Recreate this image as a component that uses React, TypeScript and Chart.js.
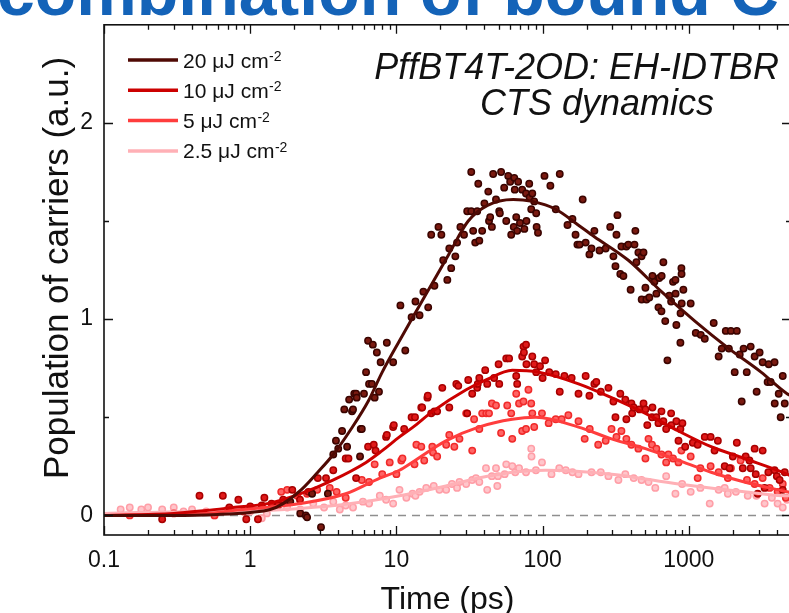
import React, { useEffect, useRef } from 'react';
import { Chart, registerables } from 'chart.js';

Chart.register(...registerables);

const FONT = "'Liberation Sans', Arial, sans-serif";

// ---- axis ticks ----
const xTickValues = [0.1, 1, 10, 100, 1000];
const xTickLabels = ['0.1', '1', '10', '100', '1000'];
const yTickValues = [0, 1, 2];
const yTickLabels = ['0', '1', '2'];
const yMinorValues = [0.5, 1.5];
const xMin = 0.1;
const xMax = 5000;
const yMin = -0.1;
const yMax = 2.5;
const xTitle = 'Time (ps)';
const yTitle = 'Population of carriers (a.u.)';

// ---- series ----
const seriesLabels = ['20 μJ cm', '10 μJ cm', '5 μJ cm', '2.5 μJ cm'];
const lineColors = ['#4f0a04', '#cc0000', '#ff3d3d', '#ffb0b6'];
const pointFill = ['#7a1a10', '#e01a1a', '#ff6464', '#ffc6cb'];
const pointEdge = ['#3a0400', '#a80000', '#f02a2a', '#ff9ea7'];

// fitted curves [time ps, population]
const fit20 = [
  [0.1, 0], [0.3, 0], [0.6, 0.005], [1, 0.015], [1.37, 0.03], [1.68, 0.06], [2.23, 0.13], [2.9, 0.22],
  [3.7, 0.31], [4.9, 0.44], [6.4, 0.58], [8.0, 0.73], [10.5, 0.89], [14.4, 1.07], [22.8, 1.33],
  [31, 1.5], [42, 1.58], [63, 1.61], [85, 1.6], [123, 1.56], [175, 1.48], [226, 1.42], [386, 1.3],
  [650, 1.14], [1100, 0.99], [1880, 0.85], [3120, 0.73], [4700, 0.62], [5000, 0.61],
];
const fit10 = [
  [0.1, 0], [0.3, 0.01], [0.5, 0.025], [0.76, 0.04], [1.31, 0.06], [2.19, 0.11], [3.68, 0.18],
  [6.2, 0.27], [8.0, 0.33], [10.5, 0.4], [13, 0.45], [17.7, 0.53], [30, 0.64], [41, 0.69], [62, 0.74],
  [94, 0.73], [176, 0.67], [296, 0.6], [505, 0.52], [850, 0.43], [1420, 0.35], [2400, 0.29],
  [4700, 0.21], [5000, 0.2],
];
const fit5 = [
  [0.1, 0], [0.5, 0.01], [0.76, 0.025], [2.19, 0.06], [4.5, 0.11], [7.7, 0.19], [10.5, 0.23],
  [12.8, 0.27], [21.8, 0.38], [36.5, 0.45], [62, 0.49], [90, 0.5], [176, 0.45], [296, 0.39],
  [505, 0.34], [850, 0.28], [1420, 0.22], [2400, 0.17], [4700, 0.12], [5000, 0.115],
];
const fit2p5 = [
  [0.1, 0.01], [0.5, 0.02], [0.76, 0.02], [2.19, 0.035], [4.9, 0.06], [10.5, 0.1], [21.8, 0.15],
  [36.5, 0.19], [62, 0.22], [105, 0.23], [296, 0.21], [850, 0.16], [2400, 0.12], [4700, 0.1], [5000, 0.1],
];

// measured points [time ps, population]
const data20 = [
  [1.88, 0.07], [2.2, 0.01], [2.4, 0.0], [2.45, -0.01], [2.65, 0.11], [3.05, -0.06], [3.4, 0.11], [3.7, 0.31],
  [3.86, 0.38], [4.0, 0.34], [4.25, 0.43], [4.4, 0.54], [4.6, 0.35], [4.75, 0.59], [4.97, 0.53], [5.05, 0.54],
  [5.15, 0.62], [5.3, 0.62], [5.35, 0.6], [5.64, 0.3], [5.7, 0.44], [5.8, 0.44], [6.0, 0.62], [6.2, 0.73],
  [6.4, 0.89], [6.5, 0.67], [6.8, 0.67], [6.9, 0.87], [7.1, 0.6], [7.35, 0.83], [7.6, 0.63], [7.8, 0.78],
  [8.6, 0.88], [9.5, 0.78], [10.65, 1.07], [11.5, 0.84], [12.7, 1.01], [13.5, 1.09], [14.4, 1.02], [15.3, 1.14],
  [16.5, 1.06], [17.3, 1.43], [18.2, 1.17], [19.4, 1.47], [20.3, 1.43], [20.9, 1.3], [22.3, 1.2], [23, 1.36],
  [23.7, 1.26], [25.3, 1.32], [26, 1.39], [27.4, 1.47], [29, 1.43], [30.5, 1.55], [32.5, 1.55], [32.5, 1.75],
  [33.5, 1.45], [34.6, 1.39], [35.7, 1.55], [36.3, 1.69], [36.9, 1.4], [38.6, 1.45], [40, 1.59], [42.5, 1.65],
  [43, 1.5], [43.8, 1.52], [45, 1.47], [45.9, 1.74], [48, 1.61], [50.5, 1.55], [51, 1.54], [52, 1.75],
  [54.6, 1.67], [56.4, 1.5], [58.2, 1.73], [60, 1.7], [61, 1.43], [64, 1.72], [64.5, 1.66], [63.5, 1.47],
  [66, 1.52], [67, 1.45], [68, 1.7], [70, 1.49], [72.5, 1.66], [75, 1.46], [77, 1.64], [77.5, 1.5],
  [81, 1.69], [81.5, 1.62], [83.6, 1.56], [85, 1.64], [87.6, 1.6], [90.4, 1.54], [91, 1.47], [93, 1.44],
  [103, 1.73], [113, 1.68], [123, 1.56], [131, 1.74], [148, 1.48], [160, 1.51], [168, 1.43], [173, 1.38],
  [179, 1.38], [188, 1.61], [197, 1.39], [209, 1.33], [216, 1.36], [226, 1.45], [245, 1.35], [270, 1.36],
  [290, 1.47], [305, 1.32], [315, 1.27], [320, 1.43], [325, 1.53], [340, 1.23], [346, 1.37], [357, 1.22],
  [374, 1.37], [386, 1.38], [400, 1.15], [425, 1.38], [431, 1.45], [438, 1.29], [452, 1.34], [475, 1.32],
  [476, 1.1], [490, 1.34], [505, 1.16], [513, 1.1], [537, 1.11], [564, 1.22], [582, 1.19], [600, 1.13],
  [620, 1.06], [628, 1.21], [650, 1.04], [652, 1.22], [670, 1.29], [690, 0.99], [714, 0.79], [735, 1.12],
  [757, 1.09], [780, 1.19], [810, 1.2], [812, 1.13], [822, 0.97], [876, 0.88], [878, 1.03], [890, 1.26],
  [892, 1.23], [894, 1.08], [918, 1.15], [1030, 1.08], [1116, 0.93], [1207, 0.92], [1286, 0.9], [1480, 0.98],
  [1600, 0.81], [1680, 0.85], [1790, 0.94], [1880, 0.85], [1940, 0.94], [2060, 0.73], [2130, 0.94], [2230, 0.82],
  [2300, 0.58], [2370, 0.85], [2490, 0.73], [2650, 0.86], [2820, 0.81], [2910, 0.63], [3050, 0.83], [3200, 0.78],
  [3460, 0.68], [3520, 0.77], [3630, 0.68], [3860, 0.78], [3870, 0.57], [4120, 0.62], [4250, 0.5], [4390, 0.71],
  [4530, 0.57],
];
const data10 = [
  [0.25, -0.02], [0.45, 0.1], [0.65, 0.1], [0.72, 0.04], [0.83, 0.08], [0.94, -0.02], [1.0, 0.045], [1.13, -0.02],
  [1.2, 0.05], [1.25, 0.09], [1.4, 0.06], [1.55, 0.05], [1.68, 0.08], [1.8, 0.07], [1.94, 0.13], [2.19, 0.08],
  [2.5, 0.12], [2.9, 0.19], [3.3, 0.19], [3.7, 0.23], [4.5, 0.29], [4.7, 0.29], [5.3, 0.19], [6.4, 0.35],
  [7.0, 0.36], [7.2, 0.33], [8.5, 0.4], [8.6, 0.41], [9.5, 0.45], [9.6, 0.46], [11.3, 0.44], [12.7, 0.5],
  [13.4, 0.5], [14.8, 0.55], [15.0, 0.55], [16.3, 0.6], [16.4, 0.61], [17.3, 0.52], [18.2, 0.53], [19, 0.53],
  [20.6, 0.65], [23, 0.55], [25.7, 0.67], [26.5, 0.66], [30.5, 0.52], [31, 0.69], [33, 0.62], [35.7, 0.65],
  [36, 0.67], [36.9, 0.7], [40.5, 0.74], [41.8, 0.67], [46.6, 0.7], [50, 0.77], [50.5, 0.67], [56.4, 0.8],
  [59, 0.8], [66, 0.71], [67, 0.67], [72.5, 0.81], [74, 0.86], [74.5, 0.83], [77, 0.87], [77.5, 0.77],
  [85, 0.81], [87.6, 0.77], [90.4, 0.73], [96, 0.76], [100, 0.7], [104, 0.79], [111, 0.73], [123, 0.72],
  [131, 0.63], [141, 0.71], [158, 0.7], [176, 0.62], [197, 0.71], [209, 0.61], [226, 0.67], [233, 0.68],
  [250, 0.63], [282, 0.65], [305, 0.58], [315, 0.5], [340, 0.62], [368, 0.59], [374, 0.49], [405, 0.57],
  [410, 0.52], [420, 0.55], [460, 0.54], [490, 0.57], [505, 0.54], [520, 0.46], [560, 0.5], [564, 0.55],
  [600, 0.5], [620, 0.47], [650, 0.53], [670, 0.48], [700, 0.44], [757, 0.52], [760, 0.46], [822, 0.48],
  [850, 0.38], [876, 0.44], [904, 0.47], [945, 0.35], [1065, 0.37], [1150, 0.36], [1286, 0.4], [1410, 0.4],
  [1500, 0.33], [1580, 0.38], [1760, 0.25], [1900, 0.24], [2000, 0.3], [2130, 0.37], [2340, 0.24], [2450, 0.3],
  [2600, 0.28], [2650, 0.24], [2820, 0.34], [2870, 0.21], [2960, 0.11], [3200, 0.33], [3300, 0.14], [3500, 0.22],
  [3860, 0.23], [4000, 0.2], [4180, 0.18], [4390, 0.13], [4530, 0.22],
];
const data5 = [
  [0.15, 0.0], [0.3, 0.01], [0.57, 0.0], [0.9, 0.02], [1.2, 0.04], [1.63, 0.12], [1.79, 0.13], [2.1, 0.1],
  [2.45, 0.11], [2.87, 0.13], [3.5, 0.14], [3.9, 0.12], [4.5, 0.09], [5.8, 0.18], [6.5, 0.17], [7.1, 0.26],
  [8, 0.21], [9.0, 0.27], [10, 0.21], [10.8, 0.28], [11, 0.29], [13.3, 0.26], [13.7, 0.36], [14.8, 0.35],
  [15.5, 0.28], [17.6, 0.35], [17.8, 0.32], [19, 0.3], [21.9, 0.36], [23, 0.41], [24.9, 0.35], [27, 0.39],
  [30, 0.52], [33, 0.33], [34, 0.49], [36.9, 0.44], [38.6, 0.52], [41.2, 0.52], [43, 0.52], [45, 0.57],
  [48, 0.56], [52, 0.42], [57.3, 0.56], [61, 0.52], [62, 0.39], [66, 0.62], [69, 0.57], [72.5, 0.43],
  [74, 0.58], [77, 0.44], [80, 0.64], [83.6, 0.57], [85, 0.52], [87.6, 0.45], [99, 0.52], [110, 0.47],
  [123, 0.49], [135, 0.49], [150, 0.51], [176, 0.48], [194, 0.39], [210, 0.44], [240, 0.36], [270, 0.38],
  [296, 0.44], [320, 0.4], [346, 0.43], [374, 0.39], [405, 0.36], [452, 0.34], [505, 0.29], [530, 0.39],
  [560, 0.36], [600, 0.34], [650, 0.31], [700, 0.27], [725, 0.31], [780, 0.29], [850, 0.27], [890, 0.33],
  [1030, 0.3], [1150, 0.19], [1200, 0.24], [1410, 0.25], [1600, 0.22], [1850, 0.19], [1940, 0.24], [2260, 0.28],
  [2500, 0.18], [2820, 0.16], [3200, 0.19], [3570, 0.14], [4050, 0.12], [4390, 0.16], [4610, 0.09],
];
const data2p5 = [
  [0.13, 0.03], [0.15, 0.04], [0.18, 0.03], [0.2, 0.04], [0.25, 0.03], [0.3, 0.04], [0.35, 0.02], [0.4, 0.03],
  [0.5, 0.02], [0.57, 0.0], [0.7, 0.03], [1.0, 0.02], [1.2, -0.015], [1.3, 0.01], [1.79, 0.04], [2.2, 0.03],
  [2.7, 0.06], [3.2, 0.04], [3.7, 0.07], [4.1, 0.03], [4.5, 0.05], [5.05, 0.04], [5.9, 0.07], [6.5, 0.06],
  [7.7, 0.1], [8.5, 0.08], [9.5, 0.06], [10.5, 0.13], [11.7, 0.09], [12.9, 0.11], [13.5, 0.1], [14.4, 0.12],
  [16, 0.14], [18, 0.15], [19.7, 0.13], [21.9, 0.13], [24, 0.16], [26, 0.14], [27, 0.17], [30, 0.16],
  [33, 0.18], [35, 0.19], [36.9, 0.17], [41, 0.24], [41.8, 0.13], [45, 0.2], [48, 0.24], [49, 0.15],
  [49.5, 0.2], [55, 0.21], [56.4, 0.26], [62, 0.25], [65, 0.22], [69, 0.24], [77, 0.22], [83.6, 0.34],
  [84, 0.3], [90, 0.23], [99, 0.27], [115, 0.21], [130, 0.24], [144, 0.23], [160, 0.22], [176, 0.21],
  [216, 0.22], [250, 0.22], [282, 0.2], [330, 0.18], [368, 0.21], [420, 0.19], [475, 0.18], [530, 0.17],
  [590, 0.14], [700, 0.2], [810, 0.11], [900, 0.16], [1030, 0.12], [1200, 0.14], [1390, 0.06], [1600, 0.13],
  [1760, 0.14], [1850, 0.11], [2100, 0.12], [2530, 0.1], [2900, 0.1], [3300, 0.06], [3700, 0.09], [4050, 0.06],
  [4390, 0.04], [4700, 0.08],
];

const fits = [fit20, fit10, fit5, fit2p5];
const points = [data20, data10, data5, data2p5];

const toXY = (arr: number[][]) => arr.map(([x, y]) => ({ x, y }));

const decorPlugin = {
  id: 'decor',
  beforeDatasetsDraw(chart: any) {
    const { ctx, chartArea: a, scales } = chart;
    const y0 = scales.y.getPixelForValue(0);
    ctx.save();
    ctx.strokeStyle = '#8f8f8f';
    ctx.lineWidth = 1.5;
    ctx.setLineDash([8, 6]);
    ctx.beginPath();
    ctx.moveTo(a.left, y0);
    ctx.lineTo(a.right, y0);
    ctx.stroke();
    ctx.restore();
  },
  afterDraw(chart: any) {
    const { ctx, chartArea: a, scales } = chart;
    const xs = scales.x;
    const ys = scales.y;
    ctx.save();
    ctx.strokeStyle = '#111';
    ctx.lineWidth = 1.6;
    ctx.strokeRect(a.left, a.top, a.right - a.left, a.bottom - a.top);
    const MAJ = 9;
    const MIN = 5;
    const tickX = (v: number, len: number) => {
      const px = Math.round(xs.getPixelForValue(v)) + 0.5;
      ctx.beginPath();
      ctx.moveTo(px, a.bottom);
      ctx.lineTo(px, a.bottom - len);
      ctx.moveTo(px, a.top);
      ctx.lineTo(px, a.top + len);
      ctx.stroke();
    };
    const tickY = (v: number, len: number) => {
      const py = Math.round(ys.getPixelForValue(v)) + 0.5;
      ctx.beginPath();
      ctx.moveTo(a.left, py);
      ctx.lineTo(a.left + len, py);
      ctx.moveTo(a.right, py);
      ctx.lineTo(a.right - len, py);
      ctx.stroke();
    };
    ctx.lineWidth = 1.3;
    xTickValues.forEach((d) => {
      tickX(d, MAJ);
      for (let m = 2; m <= 9; m++) {
        const v = m * d;
        if (v < xMax) tickX(v, MIN);
      }
    });
    yTickValues.forEach((v) => tickY(v, MAJ));
    yMinorValues.forEach((v) => tickY(v, MIN));

    // y axis title
    ctx.save();
    ctx.translate(68, 268);
    ctx.rotate(-Math.PI / 2);
    ctx.fillStyle = '#111';
    ctx.font = `35px ${FONT}`;
    ctx.textAlign = 'center';
    ctx.textBaseline = 'alphabetic';
    ctx.fillText(yTitle, 0, 0);
    ctx.restore();

    // legend
    seriesLabels.forEach((lab, i) => {
      const y = 60 + i * 30.3;
      ctx.strokeStyle = lineColors[i];
      ctx.lineWidth = 3.5;
      ctx.beginPath();
      ctx.moveTo(128, y);
      ctx.lineTo(178, y);
      ctx.stroke();
      ctx.fillStyle = '#111';
      ctx.font = `21px ${FONT}`;
      ctx.textAlign = 'left';
      ctx.textBaseline = 'alphabetic';
      ctx.fillText(lab, 183, y + 7.5);
      const w = ctx.measureText(lab).width;
      ctx.font = `14px ${FONT}`;
      ctx.fillText('-2', 183 + w + 0.5, y + 1);
    });

    // annotation
    ctx.fillStyle = '#111';
    ctx.font = `italic 36px ${FONT}`;
    ctx.textBaseline = 'alphabetic';
    ctx.textAlign = 'right';
    ctx.fillText('PffBT4T-2OD: EH-IDTBR', 779, 79);
    ctx.textAlign = 'center';
    ctx.fillText('CTS dynamics', 597, 115);
    ctx.restore();
  },
};

export default function App() {
  const ref = useRef<HTMLCanvasElement | null>(null);
  useEffect(() => {
    if (!ref.current) return;
    const datasets: any[] = [];
    fits.forEach((f, i) => {
      datasets.push({
        label: seriesLabels[i] + ' fit',
        data: toXY(f),
        showLine: true,
        borderColor: lineColors[i],
        borderWidth: 3,
        pointRadius: 0,
        cubicInterpolationMode: 'monotone',
        fill: false,
      });
    });
    points.forEach((p, i) => {
      datasets.push({
        label: seriesLabels[i],
        data: toXY(p),
        showLine: false,
        pointRadius: 3.2,
        pointBorderWidth: 1.5,
        pointBackgroundColor: pointFill[i],
        pointBorderColor: pointEdge[i],
      });
    });
    const chart = new Chart(ref.current, {
      type: 'scatter',
      data: { datasets },
      options: {
        animation: false,
        responsive: false,
        devicePixelRatio: 1,
        layout: { padding: { left: 0, top: 24, right: 9, bottom: 0 } },
        plugins: { legend: { display: false }, tooltip: { enabled: false } },
        scales: {
          x: {
            type: 'logarithmic',
            min: xMin,
            max: xMax,
            grid: { display: false, drawTicks: false },
            border: { display: false },
            afterBuildTicks: (s: any) => {
              s.ticks = xTickValues.map((v) => ({ value: v }));
            },
            afterFit: (s: any) => {
              s.height = 105;
            },
            ticks: {
              autoSkip: false,
              maxRotation: 0,
              padding: 12,
              color: '#111',
              font: { family: FONT, size: 23 },
              callback: (_v: any, i: number) => xTickLabels[i] ?? '',
            },
            title: {
              display: true,
              text: xTitle,
              color: '#111',
              font: { family: FONT, size: 32 },
              padding: { top: 0, bottom: 21 },
            },
          },
          y: {
            min: yMin,
            max: yMax,
            grid: { display: false, drawTicks: false },
            border: { display: false },
            afterBuildTicks: (s: any) => {
              s.ticks = yTickValues.map((v) => ({ value: v }));
            },
            afterFit: (s: any) => {
              s.width = 104;
            },
            ticks: {
              padding: 11,
              color: '#111',
              font: { family: FONT, size: 23 },
              callback: (_v: any, i: number) => yTickLabels[i] ?? '',
            },
            title: { display: false },
          },
        },
      },
      plugins: [decorPlugin],
    });
    return () => chart.destroy();
  }, []);

  return (
    <div
      style={{
        position: 'fixed',
        left: 0,
        top: 0,
        width: 789,
        height: 613,
        overflow: 'hidden',
        background: '#fff',
      }}
    >
      <canvas
        ref={ref}
        width={800}
        height={640}
        style={{ position: 'absolute', left: 0, top: 0, width: 800, height: 640 }}
      />
      <div
        style={{
          position: 'absolute',
          left: -3,
          top: -43,
          fontFamily: FONT,
          fontWeight: 'bold',
          fontSize: 68,
          lineHeight: '68px',
          color: '#1463b8',
          whiteSpace: 'nowrap',
        }}
      >
        combination of bound C
      </div>
    </div>
  );
}
